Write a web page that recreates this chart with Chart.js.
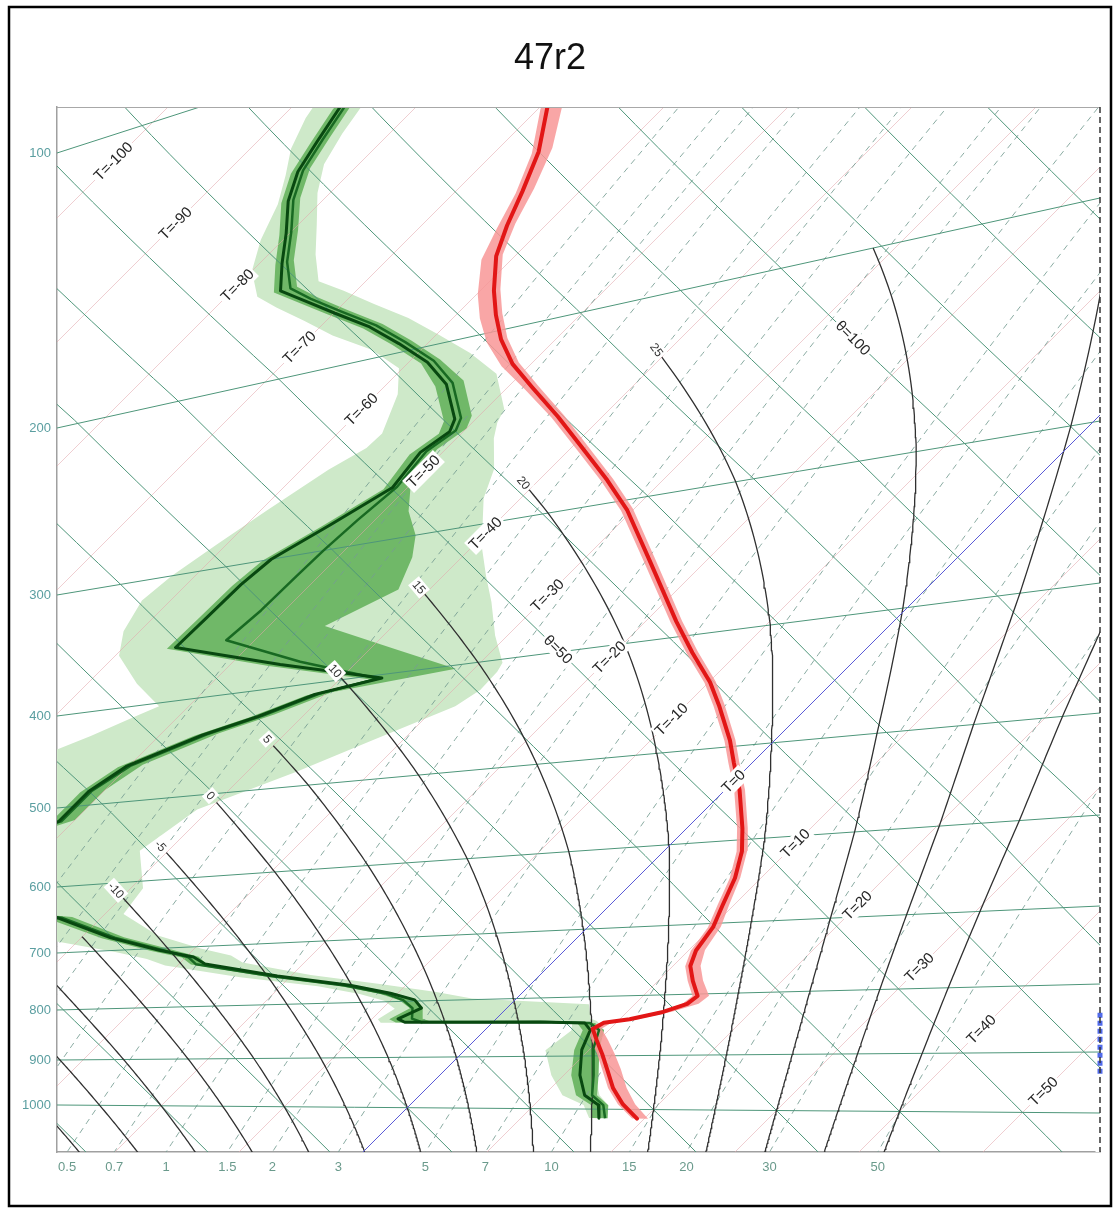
<!DOCTYPE html>
<html>
<head>
<meta charset="utf-8">
<title>47r2</title>
<script src="https://cdn.jsdelivr.net/npm/chart.js@4.4.1/dist/chart.umd.min.js"></script>
<style>
  html, body { margin: 0; padding: 0; background: #ffffff; }
  #box { position: relative; width: 1115px; height: 1211px; }
  canvas { display: block; }
</style>
</head>
<body>
<div id="box"><canvas id="chart" width="1115" height="1211"></canvas></div>
<script>
// =====================================================================
// DATA
// =====================================================================
const chartTitle = '47r2';

// pressure levels labelled on the left axis (hPa)
const pressureLevels = [100, 200, 300, 400, 500, 600, 700, 800, 900, 1000];
// mixing ratio values labelled along the bottom (g/kg)
const mixingRatioLabels = [0.5, 0.7, 1, 1.5, 2, 3, 5, 7, 10, 15, 20, 30, 50];
// mixing-ratio lines that are drawn (g/kg)
const mixingRatioLines = [0.1, 0.15, 0.2, 0.3, 0.5, 0.7, 1, 1.5, 2, 3, 5, 7, 10, 15, 20, 30, 50];
// isotherms (deg C)
const isotherms = [-130, -120, -110, -100, -90, -80, -70, -60, -50, -40, -30, -20, -10, 10, 20, 30, 40, 50, 60];
const freezingIsotherm = 0;
const isothermLabels = [-100, -90, -80, -70, -60, -50, -40, -30, -20, -10, 0, 10, 20, 30, 40, 50, 60];
// dry adiabats (potential temperature, deg C)
const dryAdiabats = [-40, -30, -20, -10, 0, 10, 20, 30, 40, 50, 60, 70, 80, 90, 100, 110, 120, 130, 140, 150];
const dryAdiabatLabels = [50, 100];
const dryAdiabatLabelLevels = [398, 236];
// saturated adiabats (wet-bulb potential temperature, deg C)
const wetAdiabats = [-35, -30, -25, -20, -15, -10, -5, 0, 5, 10, 15, 20, 25, 30, 35, 40];
const wetAdiabatLabels = [-10, -5, 0, 5, 10, 15, 20, 25];

// temperature profile (hPa, deg C) with its ensemble envelope
const tempP  = [115, 127, 139, 150, 160, 170, 183, 193, 204, 216, 229, 246, 266, 286, 306, 341, 388, 414, 440, 461, 494, 516, 545, 587, 613, 644, 677, 705, 736, 758, 780, 803, 815, 827, 838, 843, 853, 872, 897, 924, 959, 990, 1018];
const tempT  = [-71.5, -69.4, -66.5, -64.6, -63.1, -61.5, -58.9, -56.8, -54.4, -51.5, -48.0, -43.6, -38.9, -34.5, -30.5, -24.6, -17.5, -13.7, -9.9, -7.3, -3.6, -1.5, 1.2, 4.5, 6.3, 7.9, 9.1, 10.1, 10.6, 11.4, 12.8, 14.4, 14.2, 12.9, 10.8, 9.0, 8.6, 9.8, 11.4, 13.0, 15.0, 17.1, 19.4];
const tempLo = [-71.9, -69.8, -66.9, -65.0, -63.7, -62.4, -59.9, -57.8, -55.3, -52.2, -48.5, -44.0, -39.3, -34.9, -30.9, -25.0, -17.9, -14.1, -10.3, -7.7, -4.0, -1.9, 0.8, 4.1, 5.9, 7.5, 8.7, 9.7, 10.2, 11.0, 12.4, 14.0, 13.8, 12.5, 10.4, 8.6, 8.2, 9.4, 11.0, 12.6, 14.6, 16.7, 19.0];
const tempHi = [-70.6, -68.5, -65.7, -63.9, -62.6, -61.1, -58.5, -56.4, -54.0, -51.1, -47.6, -43.2, -38.5, -34.1, -30.1, -24.2, -17.1, -13.3, -9.5, -6.9, -3.2, -1.1, 1.6, 4.9, 6.7, 8.3, 9.6, 10.7, 11.3, 12.2, 13.6, 15.3, 15.1, 13.6, 11.4, 9.6, 9.3, 10.7, 12.4, 14.1, 16.1, 18.1, 20.3];

// dew-point profiles (hPa, deg C): two runs and two envelope bands
const dewP      = [100, 111, 118, 125, 133, 143, 153, 163, 169, 177, 186, 196, 207, 219, 237, 243, 251, 268, 284, 300, 314, 335, 354, 380, 403, 410, 424, 436, 460, 484, 516, 560, 610, 645, 680, 703, 716, 728, 752, 771, 786, 798, 812, 830, 836, 838, 840, 843, 855, 889, 935, 973, 992, 1018];
const dewA      = [-87.0, -86.1, -85.2, -84.3, -82.7, -80.3, -78.2, -76.1, -73.4, -69.9, -66.0, -62.3, -58.5, -55.2, -51.7, -51.1, -51.8, -51.2, -53.2, -55.2, -55.6, -55.7, -55.8, -46.0, -36.7, -40.8, -43.6, -46.6, -50.2, -51.2, -51.2, -60.0, -58.0, -43.5, -37.6, -32.7, -29.4, -27.9, -21.1, -14.5, -10.6, -8.1, -6.9, -7.9, -7.1, -1.9, 3.8, 7.5, 8.5, 9.4, 11.3, 13.3, 15.2, 16.3];
const dewB      = [-86.7, -85.8, -84.9, -84.0, -82.4, -80.0, -77.9, -75.5, -73.0, -69.5, -65.6, -61.9, -58.1, -54.8, -51.3, -50.7, -51.4, -50.9, -51.4, -51.7, -51.8, -51.9, -52.3, -44.6, -37.0, -40.5, -43.3, -46.3, -49.9, -51.0, -51.0, -60.0, -58.0, -43.2, -37.3, -32.4, -29.8, -28.6, -21.5, -14.9, -11.0, -9.0, -7.6, -6.8, -5.8, -1.0, 4.2, 7.9, 9.2, 10.3, 12.4, 13.9, 15.6, 16.8];
const dewMidLo  = [-87.4, -86.5, -85.6, -84.7, -83.1, -80.7, -78.6, -76.5, -73.8, -70.3, -66.4, -62.7, -58.9, -55.9, -52.4, -51.8, -52.5, -51.8, -53.8, -55.8, -56.2, -56.3, -56.4, -46.8, -37.5, -41.4, -44.2, -47.2, -50.8, -51.8, -51.8, -62.0, -60.0, -44.3, -38.3, -33.4, -30.3, -29.0, -22.0, -15.4, -11.5, -9.3, -7.8, -8.6, -7.8, -2.6, 3.1, 6.9, 7.9, 8.8, 10.6, 12.6, 14.6, 15.7];
const dewMidHi  = [-86.3, -85.4, -84.5, -83.6, -82.0, -79.6, -77.5, -75.1, -72.6, -69.1, -65.2, -61.5, -57.7, -54.1, -50.6, -50.0, -50.7, -50.0, -48.0, -45.5, -44.0, -42.5, -45.5, -38.0, -31.5, -39.6, -42.4, -45.4, -49.0, -50.0, -50.0, -58.0, -56.0, -42.4, -36.6, -31.7, -29.0, -27.8, -20.7, -14.1, -10.2, -8.0, -6.8, -6.0, -5.0, -0.2, 4.8, 8.3, 9.6, 10.8, 12.8, 14.3, 16.0, 17.0];
const dewWideLo = [-89.5, -88.0, -86.7, -85.0, -83.3, -81.8, -80.0, -77.5, -75.1, -71.8, -68.3, -64.0, -60.3, -58.3, -56.4, -56.5, -57.8, -59.5, -60.8, -61.9, -62.3, -61.3, -59.7, -56.0, -52.4, -53.5, -55.5, -57.5, -60.0, -62.0, -64.0, -68.0, -68.0, -50.0, -42.0, -36.0, -33.0, -31.0, -24.0, -17.0, -13.0, -10.5, -9.0, -9.5, -9.0, -4.0, 2.5, 6.5, 7.0, 6.5, 9.0, 11.5, 14.0, 15.5];
const dewWideHi = [-85.3, -84.6, -83.8, -82.8, -81.0, -78.5, -76.2, -73.8, -71.0, -67.5, -63.6, -59.8, -55.8, -52.0, -48.5, -48.0, -47.0, -44.5, -43.0, -41.0, -39.3, -36.5, -34.0, -31.0, -28.2, -27.9, -27.8, -28.5, -32.5, -36.0, -41.0, -42.3, -39.0, -38.5, -34.0, -29.5, -26.5, -25.0, -18.5, -12.0, -7.0, -3.6, 6.3, 7.3, 7.6, 8.0, 8.3, 8.6, 9.5, 10.5, 12.5, 14.5, 16.0, 17.0];

// boundary-layer marker on the right edge (hPa)
const boundaryLayer = [841, 939];

// =====================================================================
// DIAGRAM GEOMETRY (tephigram-like projection of pressure/temperature)
// =====================================================================
const W = 1043, H = 1045;                 // diagram units of the frame
const T_OFFSET = 306, T_SCALE = 12.4;     // isotherms: x - y = T_OFFSET + T_SCALE*T
// height of each labelled isobar where it meets the left and right frame edges
const EDGE_LEFT  = [999, 724, 557, 436, 344, 265, 199, 142, 92, 47];
const EDGE_RIGHT = [1335, 954, 731, 569, 439, 337, 246, 168, 100, 39];
const LNP = pressureLevels.map(p => Math.log(p));
const LABEL_DIAG = 1047;                  // isotherm labels sit on x + y = LABEL_DIAG

function edgeHeight(arr, p) {
  const lp = Math.log(p);
  let i = 0;
  if (lp >= LNP[LNP.length - 1]) i = LNP.length - 2;
  else if (lp > LNP[0]) { while (lp > LNP[i + 1]) i++; }
  const t = (lp - LNP[i]) / (LNP[i + 1] - LNP[i]);
  return arr[i] + t * (arr[i + 1] - arr[i]);
}
function proj(p, T) {
  const yl = edgeHeight(EDGE_LEFT, p), yr = edgeHeight(EDGE_RIGHT, p);
  const k = (yr - yl) / W;
  const x = (T_OFFSET + T_SCALE * T + yl) / (1 - k);
  return { x: x, y: x - T_OFFSET - T_SCALE * T };
}
function logSteps(pA, pB, n) {
  const a = Math.log(pA), b = Math.log(pB), out = [];
  for (let i = 0; i <= n; i++) out.push(Math.exp(a + (b - a) * i / n));
  return out;
}
function dewFromMix(w, p) {
  const e = w * p / (622 + w);
  const l = Math.log(e / 6.112);
  return 243.5 * l / (17.67 - l);
}
function satVap(tc) { return 6.112 * Math.exp(17.67 * tc / (tc + 243.5)); }
function moistSlope(p, tc) {
  const T = tc + 273.15, e = satVap(tc), rs = 0.622 * e / (p - e);
  return (287.04 * T + 2.501e6 * rs) / (p * (1005.7 + 2.501e6 * 2.501e6 * rs * 0.622 / (287.04 * T * T)));
}
function wetAdiabatPath(thw) {
  const step = 4;
  const down = []; let p = 1000, t = thw;
  while (p < 1260) {
    const k1 = moistSlope(p, t), k2 = moistSlope(p + step / 2, t + k1 * step / 2);
    t += k2 * step; p += step; down.push([p, t]);
  }
  const up = []; p = 1000; t = thw;
  for (let guard = 0; guard < 400; guard++) {
    const h = -step;
    const k1 = moistSlope(p, t), k2 = moistSlope(p + h / 2, t + k1 * h / 2);
    const tn = t + k2 * h, pn = p + h;
    if (tn <= -40 || pn <= 200) {
      let f = 1;
      if (tn < -40) f = Math.min(f, (t + 40) / (t - tn));
      if (pn < 200) f = Math.min(f, (p - 200) / (p - pn));
      up.push([p + (pn - p) * f, t + (tn - t) * f]);
      break;
    }
    p = pn; t = tn; up.push([p, t]);
  }
  return down.reverse().concat([[1000, thw]], up);
}
function bottomCrossing(w) {
  let lo = 850, hi = 1600;
  for (let i = 0; i < 60; i++) {
    const mid = (lo + hi) / 2;
    if (proj(mid, dewFromMix(w, mid)).y > 0) lo = mid; else hi = mid;
  }
  return proj(lo, dewFromMix(w, lo)).x;
}

// =====================================================================
// DATASETS
// =====================================================================
const GRID_GREEN = 'rgb(78,150,122)';
const datasets = [];
function line(points, o) {
  return Object.assign({
    data: points, borderWidth: 1, pointRadius: 0, pointHoverRadius: 0,
    fill: false, tension: 0, clip: 0, spanGaps: true
  }, o);
}
function band(ps, lo, hi, color, order) {
  const pts = ps.map((p, i) => proj(p, lo[i]));
  for (let i = ps.length - 1; i >= 0; i--) pts.push(proj(ps[i], hi[i]));
  pts.push(pts[0]);
  return line(pts, { borderWidth: 0, borderColor: 'rgba(0,0,0,0)', backgroundColor: color, fill: 'shape', order: order });
}

// envelopes
datasets.push(band(dewP, dewWideLo, dewWideHi, 'rgb(206,233,201)', 30));
datasets.push(band(dewP, dewMidLo, dewMidHi, 'rgb(112,184,104)', 29));

// isotherms (pale red)
isotherms.forEach(T => {
  datasets.push(line([proj(1400, T), proj(40, T)], { borderColor: 'rgba(226,165,172,0.55)', order: 21 }));
});
// mixing ratio lines
mixingRatioLines.forEach(w => {
  const pts = logSteps(1300, 90, 60).map(p => proj(p, dewFromMix(w, p)));
  datasets.push(line(pts, { borderColor: 'rgba(118,156,146,0.85)', borderDash: [6, 5], order: 20 }));
});
// isobars
pressureLevels.forEach(p => {
  const pts = [-160, -100, -40, 20, 80, 140].map(T => proj(p, T));
  datasets.push(line(pts, { borderColor: GRID_GREEN, order: 19 }));
});
// dry adiabats
dryAdiabats.forEach(th => {
  const pts = logSteps(1400, 40, 60).map(p => proj(p, (th + 273.15) * Math.pow(p / 1000, 0.2857) - 273.15));
  datasets.push(line(pts, { borderColor: GRID_GREEN, order: 19 }));
});
// saturated adiabats
const wetTops = {};
wetAdiabats.forEach(thw => {
  const path = wetAdiabatPath(thw);
  const pts = path.map(d => proj(d[0], d[1]));
  wetTops[thw] = [pts[pts.length - 3], pts[pts.length - 1]];
  datasets.push(line(pts, { borderColor: 'rgb(48,48,48)', borderWidth: 1.3, order: 18 }));
});
// freezing isotherm (blue)
datasets.push(line([proj(1400, freezingIsotherm), proj(40, freezingIsotherm)], { borderColor: 'rgb(90,90,215)', order: 17 }));

// temperature envelope + profile
datasets.push(band(tempP, tempLo, tempHi, 'rgba(248,150,150,0.85)', 8));
datasets.push(line(tempP.map((p, i) => proj(p, tempT[i])), { borderColor: 'rgb(226,22,22)', borderWidth: 4, order: 2, borderJoinStyle: 'round', borderCapStyle: 'round' }));
// dew point profiles
datasets.push(line(dewP.map((p, i) => proj(p, dewB[i])), { borderColor: 'rgb(24,105,34)', borderWidth: 2.5, order: 5, borderJoinStyle: 'round' }));
datasets.push(line(dewP.map((p, i) => proj(p, dewA[i])), { borderColor: 'rgb(8,72,16)', borderWidth: 3, order: 4, borderJoinStyle: 'round' }));
// boundary-layer marker
datasets.push(line(boundaryLayer.map(p => ({ x: W, y: edgeHeight(EDGE_RIGHT, p) })), { borderColor: 'rgba(50,80,230,0.85)', borderWidth: 5, borderDash: [5, 3], clip: 8, order: 1 }));

const yTickValues = pressureLevels.map(p => edgeHeight(EDGE_LEFT, p));
const xTickValues = mixingRatioLabels.map(w => bottomCrossing(w));

// =====================================================================
// LABELS / FRAME PLUGIN
// =====================================================================
function rotLabel(ctx, text, px, py, ang, font, color, bg) {
  ctx.save();
  ctx.translate(px, py); ctx.rotate(ang);
  ctx.font = font;
  const w = ctx.measureText(text).width;
  const h = parseFloat(font.match(/(\d+(\.\d+)?)px/)[1]);
  if (bg) { ctx.fillStyle = bg; ctx.fillRect(-w / 2 - 2, -h / 2 - 1, w + 4, h + 2); }
  ctx.fillStyle = color; ctx.textAlign = 'center'; ctx.textBaseline = 'middle';
  ctx.fillText(text, 0, 0.5);
  ctx.restore();
}
const decorations = {
  id: 'decorations',
  afterDatasetsDraw(chart) {
    const ctx = chart.ctx, ca = chart.chartArea, xs = chart.scales.x, ys = chart.scales.y;
    const px = v => xs.getPixelForValue(v), py = v => ys.getPixelForValue(v);
    ctx.save();
    ctx.beginPath(); ctx.rect(ca.left, ca.top, ca.right - ca.left, ca.bottom - ca.top); ctx.clip();
    const lf = '15px "Liberation Sans", Arial, sans-serif';
    // isotherm labels
    isothermLabels.forEach(T => {
      const x = (LABEL_DIAG + T_OFFSET + T_SCALE * T) / 2, y = (LABEL_DIAG - T_OFFSET - T_SCALE * T) / 2;
      rotLabel(ctx, 'T=' + T, px(x), py(y), -Math.PI / 4, lf, '#262626', '#ffffff');
    });
    // dry adiabat labels
    dryAdiabatLabels.forEach((th, i) => {
      const p = dryAdiabatLabelLevels[i];
      const pt = proj(p, (th + 273.15) * Math.pow(p / 1000, 0.2857) - 273.15);
      rotLabel(ctx, '\u03b8=' + th, px(pt.x), py(pt.y), Math.PI / 4, lf, '#262626', '#ffffff');
    });
    // saturated adiabat labels
    wetAdiabatLabels.forEach(thw => {
      const seg = wetTops[thw];
      const x0 = px(seg[0].x), y0 = py(seg[0].y), x1 = px(seg[1].x), y1 = py(seg[1].y);
      let ang = Math.atan2(y1 - y0, x1 - x0);
      const len = Math.hypot(x1 - x0, y1 - y0) || 1;
      const lx = x1 + (x1 - x0) / len * 9, ly = y1 + (y1 - y0) / len * 9;
      if (ang < -Math.PI / 2) ang += Math.PI; else if (ang > Math.PI / 2) ang -= Math.PI;
      rotLabel(ctx, String(thw), lx, ly, ang, '12px "Liberation Sans", Arial, sans-serif', '#333333', '#ffffff');
    });
    ctx.restore();
  },
  afterDraw(chart) {
    const ctx = chart.ctx, ca = chart.chartArea;
    ctx.save();
    ctx.strokeStyle = '#a8a8a8'; ctx.lineWidth = 1.2;
    ctx.beginPath(); ctx.moveTo(ca.left, ca.top + 0.5); ctx.lineTo(ca.right, ca.top + 0.5); ctx.stroke();
    ctx.strokeStyle = '#333333'; ctx.lineWidth = 1.5; ctx.setLineDash([6, 4]);
    ctx.beginPath(); ctx.moveTo(ca.right, ca.top); ctx.lineTo(ca.right, ca.bottom); ctx.stroke();
    ctx.setLineDash([]);
    ctx.strokeStyle = '#000000'; ctx.lineWidth = 2.5;
    ctx.strokeRect(9, 7, 1102, 1199);
    ctx.restore();
  }
};

Chart.defaults.font.family = '"Liberation Sans", Arial, sans-serif';
new Chart(document.getElementById('chart'), {
  type: 'line',
  data: { datasets: datasets },
  plugins: [decorations],
  options: {
    responsive: false, animation: false, devicePixelRatio: 1, events: [],
    layout: { padding: { left: 0, right: 15, top: 0, bottom: 0 } },
    plugins: {
      legend: { display: false }, tooltip: { enabled: false },
      title: { display: true, text: chartTitle, color: '#111111',
        font: { size: 36, weight: 'normal' }, padding: { top: 37, bottom: 26.8 } }
    },
    scales: {
      x: {
        type: 'linear', min: 0, max: W, position: 'bottom',
        grid: { display: false, drawTicks: false },
        border: { display: true, color: '#a0a0a0', width: 1.5 },
        afterBuildTicks: s => { s.ticks = xTickValues.map(v => ({ value: v })); },
        afterFit: s => { s.height = 59; },
        ticks: { autoSkip: false, maxRotation: 0, padding: 8, color: '#6a9a8c',
          font: { size: 13 }, callback: (v, i) => String(mixingRatioLabels[i]) }
      },
      y: {
        type: 'linear', min: 0, max: H, position: 'left',
        grid: { display: false, drawTicks: false },
        border: { display: true, color: '#a0a0a0', width: 1.5 },
        afterBuildTicks: s => { s.ticks = yTickValues.map(v => ({ value: v })); },
        afterFit: s => { s.width = 57; },
        ticks: { autoSkip: false, padding: 6, color: '#5a9ea0',
          font: { size: 13 }, callback: (v, i) => String(pressureLevels[i]) }
      }
    }
  }
});
</script>
</body>
</html>
